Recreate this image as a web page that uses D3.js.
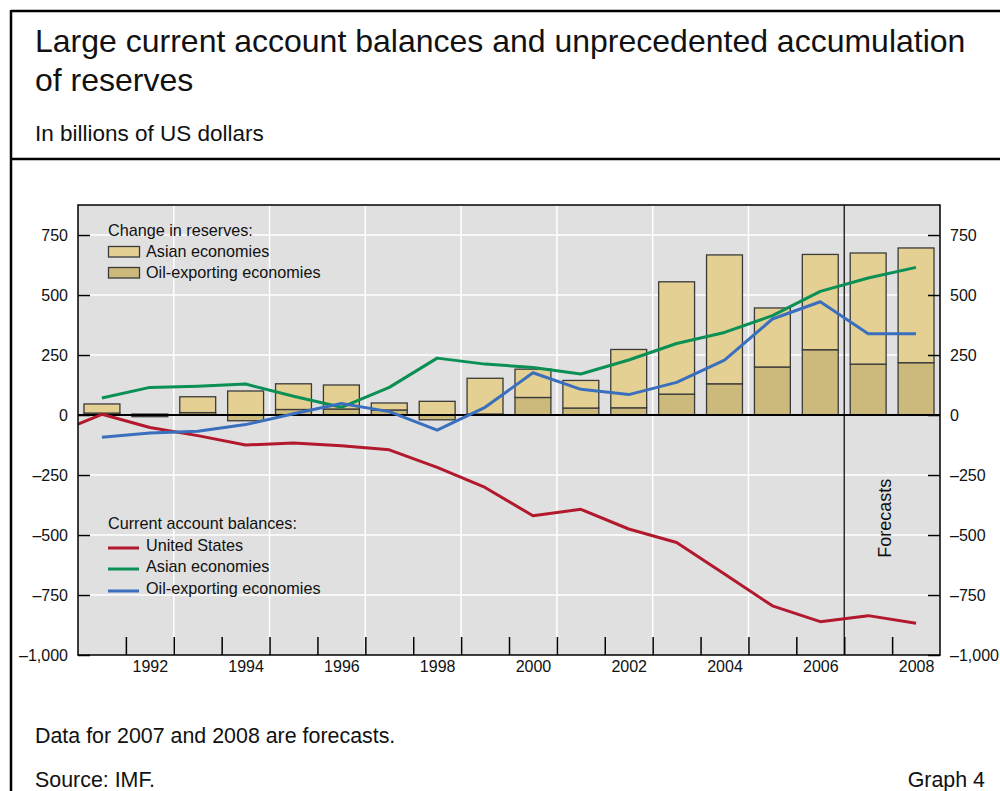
<!DOCTYPE html>
<html>
<head>
<meta charset="utf-8">
<script src="https://cdn.jsdelivr.net/npm/d3@7"></script>
<style>
  html, body { margin: 0; padding: 0; background: #fff; }
  svg { display: block; font-family: "Liberation Sans", Arial, Helvetica, sans-serif; }
</style>
</head>
<body>
<svg id="chart" width="1000" height="791"></svg>
<script>
// ---- Data ----
const years = [1991,1992,1993,1994,1995,1996,1997,1998,1999,2000,2001,2002,2003,2004,2005,2006,2007,2008];
// Change in reserves (stacked bars)
const reservesOil   = [8, -7, 10, -24, 23, 25, 21, -20, 4, 73, 29, 30, 87, 130, 200, 272, 212, 218];
const reservesAsian = [38, 4, 66, 100, 107, 100, 29, 57, 149, 118, 115, 243, 468, 537, 246, 397, 463, 478];
// Current account balances (lines)
const usYears = [1990,1991,1992,1993,1994,1995,1996,1997,1998,1999,2000,2001,2002,2003,2004,2005,2006,2007,2008];
const caUS    = [-79, 3, -52, -86, -125, -117, -128, -145, -218, -302, -420, -393, -475, -531, -663, -795, -861, -836, -868];
const caAsian = [71, 115, 120, 129, 78, 32, 115, 237, 212, 198, 171, 229, 298, 344, 414, 515, 571, 615];
const caOil   = [-93, -75, -68, -40, 5, 48, 14, -63, 32, 176, 107, 85, 136, 229, 400, 472, 339, 339];
const yTicks = [-1000, -750, -500, -250, 0, 250, 500, 750];
const xLabelYears = [1992,1994,1996,1998,2000,2002,2004,2006,2008];
const forecastStart = 2007;

// ---- Layout ----
const svg = d3.select("#chart");
const L = 78, R = 940, T = 205, B = 655;
const font = "'Liberation Sans', Arial, Helvetica, sans-serif";

const x = d3.scaleLinear().domain([1991, 2009]).range([L, R]);   // year boundaries
const xc = yr => x(yr + 0.5);                                       // year centres
const y = d3.scaleLinear().domain([-1000, 875]).range([B, T]);

const fmt = d3.formatLocale({decimal: ".", thousands: ",", grouping: [3], currency: ["", ""], minus: "\u2013"}).format(",");

// ---- Frame and texts ----
svg.append("line").attr("x1", 11).attr("x2", 1000).attr("y1", 11).attr("y2", 11).attr("stroke", "#000").attr("stroke-width", 2.5);
svg.append("line").attr("x1", 11).attr("x2", 1000).attr("y1", 159).attr("y2", 159).attr("stroke", "#000").attr("stroke-width", 2.5);
svg.append("line").attr("x1", 11).attr("x2", 11).attr("y1", 10).attr("y2", 791).attr("stroke", "#000").attr("stroke-width", 2.5);

svg.append("text").attr("x", 35).attr("y", 52).attr("font-size", 32).attr("fill", "#111")
  .text("Large current account balances and unprecedented accumulation");
svg.append("text").attr("x", 35).attr("y", 91).attr("font-size", 32).attr("fill", "#111")
  .text("of reserves");
svg.append("text").attr("x", 35).attr("y", 141).attr("font-size", 22.5).attr("fill", "#111")
  .text("In billions of US dollars");
svg.append("text").attr("x", 35).attr("y", 743).attr("font-size", 21.4).attr("fill", "#111")
  .text("Data for 2007 and 2008 are forecasts.");
svg.append("text").attr("x", 35).attr("y", 787).attr("font-size", 21.4).attr("fill", "#111")
  .text("Source: IMF.");
svg.append("text").attr("x", 985).attr("y", 787).attr("font-size", 21.4).attr("fill", "#111")
  .attr("text-anchor", "end").text("Graph 4");

// ---- Plot background ----
svg.append("defs").append("clipPath").attr("id", "plotclip")
  .append("rect").attr("x", L).attr("y", T).attr("width", R - L).attr("height", B - T);

svg.append("rect").attr("x", L).attr("y", T).attr("width", R - L).attr("height", B - T).attr("fill", "#e0e0e0");

// grid lines
const grid = svg.append("g");
grid.selectAll("line.h").data(yTicks.filter(v => v !== 0 && v !== -1000)).join("line")
  .attr("x1", L).attr("x2", R).attr("y1", d => y(d)).attr("y2", d => y(d))
  .attr("stroke", "#fff").attr("stroke-width", 1.5);
const vGrid = d3.range(1993, 2007, 2);
grid.selectAll("line.v").data(vGrid).join("line")
  .attr("x1", d => x(d)).attr("x2", d => x(d)).attr("y1", T).attr("y2", B)
  .attr("stroke", "#fff").attr("stroke-width", 1.5);

// ---- Bars (stacked, diverging) ----
const table = years.map((yr, i) => ({year: yr, oil: reservesOil[i], asian: reservesAsian[i]}));
const stack = d3.stack().keys(["oil", "asian"]).offset(d3.stackOffsetDiverging);
const series = stack(table);
const fills = {oil: "#ccb97c", asian: "#e4d093"};
const bw = x(1992) - x(1991);
const barW = bw * 0.75;

const bars = svg.append("g");
series.forEach(s => {
  bars.append("g").selectAll("rect").data(s).join("rect")
    .attr("x", d => xc(d.data.year) - barW / 2)
    .attr("width", barW)
    .attr("y", d => y(Math.max(d[0], d[1])))
    .attr("height", d => Math.abs(y(d[0]) - y(d[1])))
    .attr("fill", fills[s.key])
    .attr("stroke", "#3a3a3a")
    .attr("stroke-width", 1.3);
});

// zero line
svg.append("line").attr("x1", L).attr("x2", R).attr("y1", y(0)).attr("y2", y(0))
  .attr("stroke", "#000").attr("stroke-width", 2);

// forecast line
svg.append("line").attr("x1", x(forecastStart)).attr("x2", x(forecastStart)).attr("y1", T).attr("y2", B)
  .attr("stroke", "#000").attr("stroke-width", 1.2);
svg.append("text")
  .attr("transform", `translate(${x(forecastStart) + 47},${y(-430)}) rotate(-90)`)
  .attr("text-anchor", "middle").attr("font-size", 18).attr("fill", "#111")
  .text("Forecasts");

// ---- Lines ----
const lineGen = d3.line().x(d => xc(d[0])).y(d => y(d[1]));
const lg = svg.append("g").attr("clip-path", "url(#plotclip)");
const colors = {us: "#b2192d", asian: "#0a8f55", oil: "#3a6fbe"};
lg.append("path").datum(usYears.map((yr, i) => [yr, caUS[i]]))
  .attr("d", lineGen).attr("fill", "none").attr("stroke", colors.us).attr("stroke-width", 3).attr("stroke-linejoin", "round");
lg.append("path").datum(years.map((yr, i) => [yr, caAsian[i]]))
  .attr("d", lineGen).attr("fill", "none").attr("stroke", colors.asian).attr("stroke-width", 3).attr("stroke-linejoin", "round");
lg.append("path").datum(years.map((yr, i) => [yr, caOil[i]]))
  .attr("d", lineGen).attr("fill", "none").attr("stroke", colors.oil).attr("stroke-width", 3).attr("stroke-linejoin", "round");

// ---- Axes ----
function styleAxis(g) {
  g.select(".domain").remove();
  g.selectAll(".tick line").attr("stroke", "#000").attr("stroke-width", 1.5);
  g.selectAll("text").attr("font-family", font).attr("font-size", 16).attr("fill", "#111");
}
svg.append("g").attr("transform", `translate(${L},0)`)
  .call(d3.axisLeft(y).tickValues(yTicks).tickSize(-12).tickPadding(10).tickFormat(fmt))
  .call(styleAxis);
svg.append("g").attr("transform", `translate(${R},0)`)
  .call(d3.axisRight(y).tickValues(yTicks).tickSize(-12).tickPadding(10).tickFormat(fmt))
  .call(styleAxis);
svg.append("g").attr("transform", `translate(0,${B})`)
  .call(d3.axisBottom(x).tickValues(d3.range(1992, 2009)).tickSize(-18).tickFormat(""))
  .call(styleAxis);
svg.append("g").attr("transform", `translate(0,${B})`)
  .call(d3.axisBottom(x).tickValues(xLabelYears.map(v => v + 0.5)).tickSize(0).tickPadding(6)
        .tickFormat(v => String(Math.floor(v))))
  .call(styleAxis);

// plot frame
svg.append("rect").attr("x", L).attr("y", T).attr("width", R - L).attr("height", B - T)
  .attr("fill", "none").attr("stroke", "#000").attr("stroke-width", 1.5);

// ---- Legends ----
const leg1 = svg.append("g").attr("font-size", 16.2).attr("fill", "#111");
leg1.append("text").attr("x", 108).attr("y", 236).text("Change in reserves:");
const resLegend = [{k: "asian", label: "Asian economies", yy: 257}, {k: "oil", label: "Oil-exporting economies", yy: 278}];
resLegend.forEach(d => {
  leg1.append("rect").attr("x", 108.5).attr("y", d.yy - 10.5).attr("width", 31).attr("height", 10.5)
    .attr("fill", fills[d.k]).attr("stroke", "#3a3a3a").attr("stroke-width", 1.3);
  leg1.append("text").attr("x", 146).attr("y", d.yy).text(d.label);
});

const leg2 = svg.append("g").attr("font-size", 16.2).attr("fill", "#111");
leg2.append("text").attr("x", 108).attr("y", 529).text("Current account balances:");
const caLegend = [{k: "us", label: "United States", yy: 551}, {k: "asian", label: "Asian economies", yy: 572}, {k: "oil", label: "Oil-exporting economies", yy: 594}];
caLegend.forEach(d => {
  leg2.append("line").attr("x1", 108).attr("x2", 139).attr("y1", d.yy - 3).attr("y2", d.yy - 3)
    .attr("stroke", colors[d.k]).attr("stroke-width", 3);
  leg2.append("text").attr("x", 146).attr("y", d.yy).text(d.label);
});
</script>
</body>
</html>
